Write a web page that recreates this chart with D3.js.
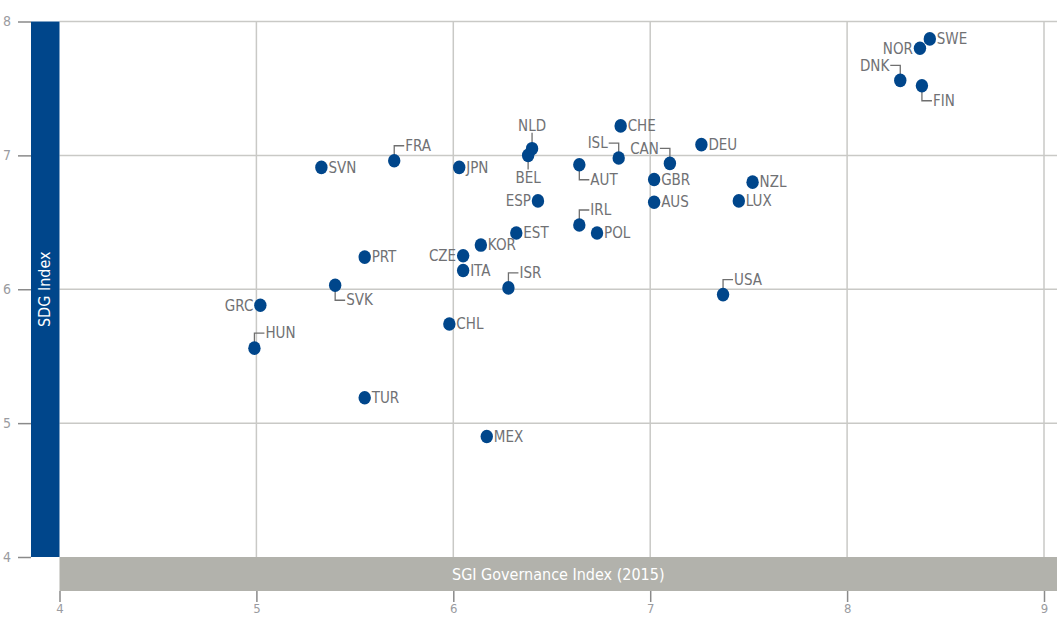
<!DOCTYPE html>
<html>
<head>
<meta charset="utf-8">
<script src="https://cdn.jsdelivr.net/npm/d3@7"></script>
<style>
  body { margin: 0; background: #fff; }
  text { font-family: "Liberation Sans Narrow", "DejaVu Sans Condensed", "Roboto", sans-serif; font-stretch: condensed; }
</style>
</head>
<body>
<svg id="chart"></svg>
<script>
// data: country codes, SGI governance (x), SDG index (y)
const countries = ['SWE','NOR','DNK','FIN','CHE','NLD','BEL','ISL','CAN','DEU','AUT','GBR','AUS','NZL','LUX','USA',
  'ESP','IRL','POL','EST','KOR','CZE','ITA','ISR','CHL','MEX','SVN','FRA','JPN','PRT','SVK','GRC','HUN','TUR']
const sgi = [8.42,8.37,8.27,8.38,6.85,6.40,6.38,6.84,7.10,7.26,6.64,7.02,7.02,7.52,7.45,7.37,
  6.43,6.64,6.73,6.32,6.14,6.05,6.05,6.28,5.98,6.17,5.33,5.70,6.03,5.55,5.40,5.02,4.99,5.55]
const sdg = [7.87,7.80,7.56,7.52,7.22,7.05,7.00,6.98,6.94,7.08,6.93,6.82,6.65,6.80,6.66,5.96,
  6.66,6.48,6.42,6.42,6.33,6.25,6.14,6.01,5.74,4.90,6.91,6.96,6.91,6.24,6.03,5.88,5.56,5.19]
const xTicks = [4, 5, 6, 7, 8, 9]
const yTicks = [4, 5, 6, 7, 8]
const xTitle = 'SGI Governance Index (2015)'
const yTitle = 'SDG Index'

// label placement (r = right, l = left, ur/dr = leader up/down then right, ul = leader up then left, u/d = above/below)
const placement = {
  NOR: 'l', GRC: 'l', CZE: 'l', ESP: 'l',
  FRA: 'ur', IRL: 'ur', ISR: 'ur', USA: 'ur', HUN: 'ur',
  AUT: 'dr', SVK: 'dr', FIN: 'dr',
  ISL: 'ul', CAN: 'ul', DNK: 'ul',
  NLD: 'u', BEL: 'd'
}

const width = 1057
const height = 619
const blue = '#00468b'
const labelColor = '#707174'

const svg = d3.select('#chart').attr('width', width).attr('height', height)

const x = d3.scaleLinear().domain([4, 9]).range([59.5, 1044])
const y = d3.scaleLinear().domain([4, 8]).range([557, 21.5])

// grid
svg.append('g')
  .selectAll('line')
  .data(yTicks.filter(d => d > 4))
  .join('line')
  .attr('x1', x(4)).attr('x2', width)
  .attr('y1', d => y(d)).attr('y2', d => y(d))
  .attr('stroke', '#c9c9c6').attr('stroke-width', 1.5)

svg.append('g')
  .selectAll('line')
  .data(xTicks.filter(d => d > 4))
  .join('line')
  .attr('x1', d => x(d)).attr('x2', d => x(d))
  .attr('y1', y(8)).attr('y2', y(4))
  .attr('stroke', '#c9c9c6').attr('stroke-width', 1.5)

// y title bar
svg.append('rect')
  .attr('x', 31).attr('y', y(8))
  .attr('width', x(4) - 31).attr('height', y(4) - y(8))
  .attr('fill', blue)

svg.append('text')
  .attr('transform', `translate(${(31 + x(4)) / 2 + 5},${(y(8) + y(4)) / 2}) rotate(-90)`)
  .attr('text-anchor', 'middle')
  .attr('fill', '#fff')
  .attr('font-size', 16)
  .text(yTitle)

// x title bar
svg.append('rect')
  .attr('x', x(4)).attr('y', y(4))
  .attr('width', width - x(4)).attr('height', 34)
  .attr('fill', '#b2b2ac')

svg.append('text')
  .attr('x', (x(4) + width) / 2)
  .attr('y', y(4) + 23)
  .attr('text-anchor', 'middle')
  .attr('fill', '#fff')
  .attr('font-size', 16)
  .text(xTitle)

// y axis ticks
const yAxis = svg.append('g')
  .attr('transform', `translate(31,0)`)
  .call(d3.axisLeft(y).tickValues(yTicks).tickSize(13).tickPadding(7).tickFormat(d3.format('d')))
yAxis.select('.domain').remove()
yAxis.selectAll('line').attr('stroke', '#8a8a8a').attr('stroke-width', 1.5)
yAxis.selectAll('text').attr('fill', '#9a9ba0').attr('font-size', 14).attr('font-family', null)

// x axis ticks
const xAxis = svg.append('g')
  .attr('transform', `translate(0,${y(4) + 34})`)
  .call(d3.axisBottom(x).tickValues(xTicks).tickSize(11).tickPadding(2).tickFormat(d3.format('d')))
xAxis.select('.domain').remove()
xAxis.selectAll('line').attr('stroke', '#8a8a8a').attr('stroke-width', 1.5)
xAxis.selectAll('text').attr('fill', '#9a9ba0').attr('font-size', 13).attr('font-family', null)

// points
const pts = countries.map((c, i) => ({ c, x: sgi[i], y: sdg[i], p: placement[c] || 'r' }))

const lead = 15
const hor = 10

const g = svg.append('g')

g.selectAll('path')
  .data(pts.filter(d => d.p !== 'r' && d.p !== 'l'))
  .join('path')
  .attr('fill', 'none')
  .attr('stroke', '#6f6f6f')
  .attr('stroke-width', 1.3)
  .attr('d', d => {
    const px = x(d.x), py = y(d.y)
    if (d.p === 'ur') return `M${px},${py}V${py - lead}H${px + hor}`
    if (d.p === 'dr') return `M${px},${py}V${py + lead}H${px + hor}`
    if (d.p === 'ul') return `M${px},${py}V${py - lead}H${px - hor}`
    if (d.p === 'u') return `M${px},${py}V${py - 16}`
    return `M${px},${py}V${py + 14}`
  })

g.selectAll('ellipse')
  .data(pts)
  .join('ellipse')
  .attr('cx', d => x(d.x))
  .attr('cy', d => y(d.y))
  .attr('rx', 6.2)
  .attr('ry', 6.8)
  .attr('fill', blue)

g.selectAll('text')
  .data(pts)
  .join('text')
  .attr('fill', labelColor)
  .attr('font-size', 15)
  .attr('dy', '0.35em')
  .attr('x', d => {
    const px = x(d.x)
    if (d.p === 'r') return px + 7
    if (d.p === 'l') return px - 7
    if (d.p === 'ur' || d.p === 'dr') return px + hor + 1
    if (d.p === 'ul') return px - hor - 1
    return px
  })
  .attr('y', d => {
    const py = y(d.y)
    if (d.p === 'ur' || d.p === 'ul') return py - lead
    if (d.p === 'dr') return py + lead
    if (d.p === 'u') return py - 23
    if (d.p === 'd') return py + 22
    return py
  })
  .attr('text-anchor', d => (d.p === 'l' || d.p === 'ul') ? 'end' : (d.p === 'u' || d.p === 'd') ? 'middle' : 'start')
  .text(d => d.c)
</script>
</body>
</html>
